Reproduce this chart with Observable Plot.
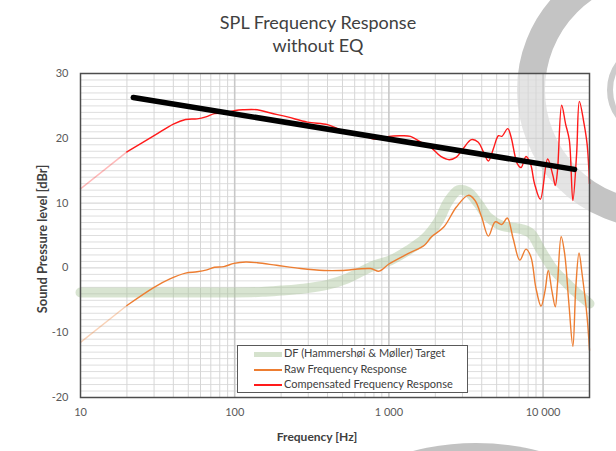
<!DOCTYPE html>
<html>
<head>
<meta charset="utf-8">
<script src="https://cdn.jsdelivr.net/npm/d3@7"></script>
<script src="https://cdn.jsdelivr.net/npm/@observablehq/plot@0.6"></script>
<style>
  html, body { margin: 0; padding: 0; background: #fff; }
  #wrap { position: relative; width: 616px; height: 451px; overflow: hidden; font-family: Lato, "Open Sans", sans-serif; }
  #wm { position: absolute; left: 0; top: 0; }
  #chart { position: absolute; left: 0; top: 0; }
  .title { position: absolute; left: 0; width: 636px; text-align: center; font-size: 18px; color: #404040; }
  .axlab { position: absolute; font-weight: bold; font-size: 12px; color: #404040; white-space: nowrap; }
  #legend { position: absolute; left: 237px; top: 345px; width: 229px; height: 46px; border: 1.3px solid #595959; background: #fff; }
  .lrow { position: absolute; left: 0; height: 14px; font-size: 11px; color: #404040; white-space: nowrap; }
  .lsw { position: absolute; left: 16px; width: 28px; }
  .ltx { position: absolute; left: 46px; top: -1px; }
</style>
</head>
<body>
<div id="wrap">
  <svg id="wm" width="616" height="451">
    <circle cx="655" cy="90" r="124" fill="none" stroke="#c4c4c4" stroke-width="28"></circle>
    <circle cx="655" cy="90" r="45" fill="none" stroke="#cccccc" stroke-width="6"></circle>
    <circle cx="476" cy="695" r="252" fill="#c2c2c2"></circle>
  </svg>
  <div id="chart"></div>
  <div class="title" style="top:11px">SPL Frequency Response</div>
  <div class="title" style="top:34px">without EQ</div>
  <div class="axlab" id="ylab" style="left:42px; top:239px; font-size:12.8px; transform: translate(-50%,-50%) rotate(-90deg);">Sound Pressure level [dBr]</div>
  <div class="axlab" id="xlab" style="left:317px; top:436px; transform: translate(-50%,-50%);">Frequency [Hz]</div>
  <div id="legend"></div>
</div>
<script>
// ---- Data ----
const compFreq = [20, 30, 40, 48, 57, 65, 74, 85, 101, 113, 140, 171, 220, 296, 400, 464, 566, 700, 800, 900, 1000, 1200, 1380, 1610, 1870, 2170, 2460, 2740, 3030, 3430, 3800, 4100, 4420, 4760, 5140, 5400, 5900, 6200, 6800, 7200, 7750, 8300, 8800, 9600, 10700, 11600, 12000, 12400, 13200, 14000, 14800, 15600, 16500, 17200, 18300, 19300, 20000];
const compDb   = [17.9, 20.4, 22.2, 22.9, 23.0, 23.3, 23.8, 23.9, 24.3, 24.4, 24.4, 23.9, 23.3, 22.5, 22.1, 21.5, 20.7, 20.3, 19.9, 20.0, 20.3, 20.4, 20.3, 19.4, 18.6, 17.2, 16.7, 17.1, 18.4, 19.8, 19.4, 17.9, 16.5, 18.4, 20.4, 20.3, 21.5, 20.2, 16.1, 15.5, 17.2, 16.0, 13.0, 10.6, 16.8, 14.2, 12.7, 15.0, 25.1, 22.2, 19.7, 10.4, 17.6, 25.7, 22.7, 19.1, 13.0];
const compLowFreq = [10, 20];
const compLowDb   = [12.2, 17.9];

const rawFreq = [20, 30, 38, 48, 57, 66, 74, 85, 99, 118, 140, 187, 268, 380, 490, 760, 865, 1000, 1330, 1700, 1890, 2270, 2740, 3270, 3620, 4000, 4420, 4890, 5400, 5860, 6400, 7060, 7750, 8340, 8970, 9700, 10300, 10800, 11400, 12000, 12400, 13100, 13800, 14700, 15600, 16300, 17100, 17900, 19300, 20000];
const rawDb   = [-5.8, -3.0, -1.7, -0.8, -0.6, -0.3, 0.1, 0.2, 0.7, 0.9, 0.8, 0.4, -0.1, -0.4, -0.4, -0.1, -0.5, 0.6, 2.2, 3.5, 4.8, 6.3, 9.4, 11.2, 10.4, 7.8, 4.9, 7.1, 6.7, 7.7, 4.5, 1.2, 2.9, 1.7, -3.0, -5.9, -3.5, -0.4, -3.5, -6.0, -2.5, 4.8, 2.2, -5.5, -12.1, -3.0, 2.3, -0.9, -7.6, -12.7];
const rawLowFreq = [10, 20];
const rawLowDb   = [-11.5, -5.8];

const targetFreq = [10, 50, 100, 150, 200, 280, 400, 540, 804, 1030, 1330, 1700, 2080, 2420, 2820, 3270, 3800, 4420, 5400, 7200, 8340, 9700, 11800, 14400, 16800, 20000];
const targetDb   = [-3.8, -3.8, -3.8, -3.7, -3.5, -3.2, -2.6, -1.6, 0.4, 1.2, 2.7, 4.5, 7.1, 10.2, 12.0, 11.7, 9.9, 7.8, 6.5, 6.0, 5.3, 2.7, -0.4, -2.5, -4.0, -5.5];

const trendFreq = [22, 16000];
const trendDb   = [26.3, 15.2];

const xTicks = [10, 100, 1000, 10000];
const xTickLabels = ["10", "100", "1 000", "10 000"];
const yTicks = [-20, -10, 0, 10, 20, 30];

const legendLabels = ["DF (Hammershøi & Møller) Target", "Raw Frequency Response", "Compensated Frequency Response"];
const legendColors = ["#d5e2cd", "#ED7D31", "#FF1A1A"];

// ---- build tables ----
const pts = (xs, ys) => xs.map((f, i) => ({f, db: ys[i]}));
const comp = pts(compFreq, compDb);
const compLow = pts(compLowFreq, compLowDb);
const raw = pts(rawFreq, rawDb);
const rawLow = pts(rawLowFreq, rawLowDb);
const target = pts(targetFreq, targetDb);
const trend = pts(trendFreq, trendDb);

// gridlines
const minorX = [];
for (const d of [10, 100, 1000, 10000]) for (let k = 2; k <= 9; k++) if (d * k < 20000) minorX.push(d * k);
const majorX = [100, 1000, 10000];
const minorY = d3.range(-19, 30, 1).filter(v => v % 10 !== 0);
const majorY = [-10, 0, 10, 20];

const chart = Plot.plot({
  width: 616, height: 451,
  marginTop: 73, marginLeft: 80, marginRight: 27, marginBottom: 54,
  x: {type: "log", domain: [10, 20000]},
  y: {domain: [-20, 30]},
  style: {background: "transparent", fontFamily: "Lato, 'Open Sans', sans-serif", fontSize: "11px", color: "#595959", overflow: "visible"},
  marks: [
    Plot.frame({fill: "white", fillOpacity: 0.55, stroke: null}),
    Plot.ruleY(minorY, {stroke: "#dedede", strokeWidth: 1}),
    Plot.ruleX(minorX, {stroke: "#d6d6d6", strokeWidth: 1}),
    Plot.ruleY(majorY, {stroke: "#cfcfcf", strokeWidth: 1}),
    Plot.ruleX(majorX, {stroke: "#c8c8c8", strokeWidth: 1.6}),
    Plot.line(target, {x: "f", y: "db", stroke: "#a9c49a", strokeOpacity: 0.45, strokeWidth: 10, curve: "catmull-rom"}),
    Plot.line(rawLow, {x: "f", y: "db", stroke: "#ED7D31", strokeOpacity: 0.35, strokeWidth: 1.4}),
    Plot.line(raw, {x: "f", y: "db", stroke: "#ED7D31", strokeWidth: 1.4, curve: "catmull-rom"}),
    Plot.line(compLow, {x: "f", y: "db", stroke: "#FF1A1A", strokeOpacity: 0.3, strokeWidth: 1.4}),
    Plot.line(comp, {x: "f", y: "db", stroke: "#FF1A1A", strokeWidth: 1.4, curve: "catmull-rom"}),
    Plot.line(trend, {x: "f", y: "db", stroke: "black", strokeWidth: 5.5, strokeLinecap: "round"}),
    Plot.frame({stroke: "#4d4d4d", strokeWidth: 1.5}),
    Plot.axisY({ticks: yTicks, tickSize: 0, tickPadding: 12, label: null, tickFormat: d => String(d)}),
    Plot.axisX({ticks: xTicks, tickSize: 0, tickPadding: 11, label: null, tickFormat: d => xTickLabels[xTicks.indexOf(d)]})
  ]
});
document.getElementById("chart").appendChild(chart);

// legend (HTML)
const leg = document.getElementById("legend");
const rowTops = [1, 17, 32];
legendLabels.forEach((lab, i) => {
  const row = document.createElement("div");
  row.className = "lrow";
  row.style.top = rowTops[i] + "px";
  const sw = document.createElement("div");
  sw.className = "lsw";
  const h = i === 0 ? 5 : 2;
  sw.style.height = h + "px";
  sw.style.top = (7 - h / 2) + "px";
  sw.style.background = legendColors[i];
  const tx = document.createElement("div");
  tx.className = "ltx";
  tx.textContent = lab;
  row.appendChild(sw);
  row.appendChild(tx);
  leg.appendChild(row);
});
</script>
</body>
</html>
